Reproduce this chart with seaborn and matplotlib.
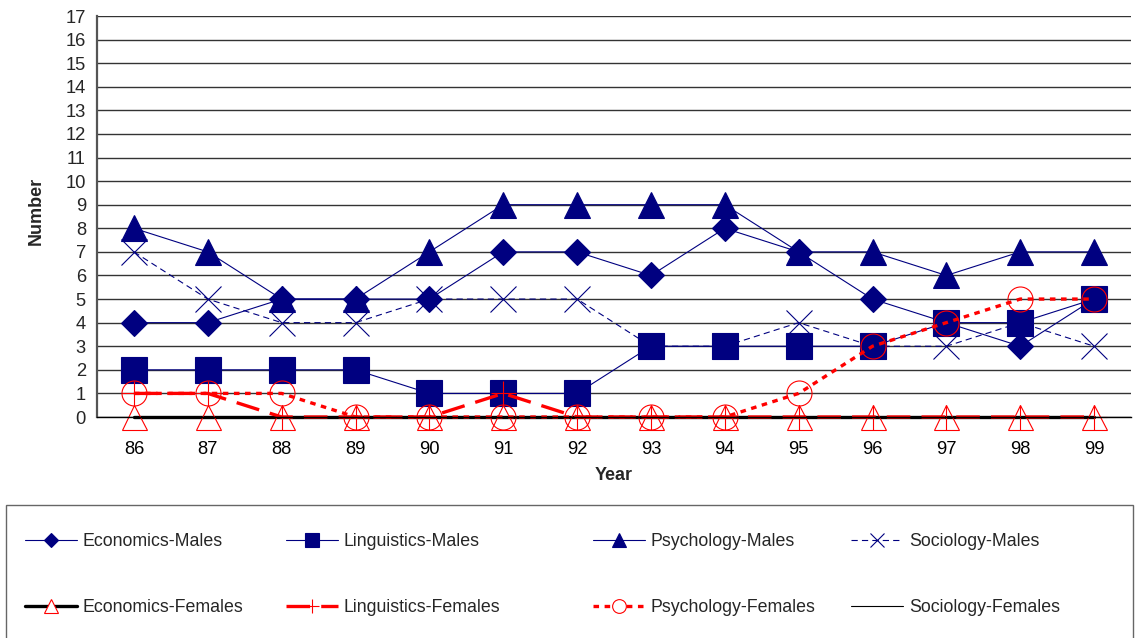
import matplotlib
matplotlib.use("Agg")
import matplotlib.pyplot as plt
import seaborn as sns
from matplotlib.patches import Rectangle
from matplotlib.lines import Line2D

# data
years = [86, 87, 88, 89, 90, 91, 92, 93, 94, 95, 96, 97, 98, 99]
economics_males = [4, 4, 5, 5, 5, 7, 7, 6, 8, 7, 5, 4, 3, 5]
linguistics_males = [2, 2, 2, 2, 1, 1, 1, 3, 3, 3, 3, 4, 4, 5]
psychology_males = [8, 7, 5, 5, 7, 9, 9, 9, 9, 7, 7, 6, 7, 7]
sociology_males = [7, 5, 4, 4, 5, 5, 5, 3, 3, 4, 3, 3, 4, 3]
economics_females = [0, 0, 0, 0, 0, 0, 0, 0, 0, 0, 0, 0, 0, 0]
linguistics_females = [1, 1, 0, 0, 0, 1, 0, 0, 0, 0, 0, 0, 0, 0]
psychology_females = [1, 1, 1, 0, 0, 0, 0, 0, 0, 1, 3, 4, 5, 5]
sociology_females = [0, 0, 0, 0, 0, 0, 0, 0, 0, 0, 0, 0, 0, 0]

NAVY = "#000080"
RED = "#FF0000"

series = [
    ("Economics-Males", economics_males,
     dict(color=NAVY, lw=0.8, marker="D", ms=13.5, mfc=NAVY, mec=NAVY, mew=0.8)),
    ("Linguistics-Males", linguistics_males,
     dict(color=NAVY, lw=0.8, marker="s", ms=19, mfc=NAVY, mec=NAVY, mew=0.8)),
    ("Psychology-Males", psychology_males,
     dict(color=NAVY, lw=0.8, marker="^", ms=19, mfc=NAVY, mec=NAVY, mew=0.8)),
    ("Sociology-Males", sociology_males,
     dict(color=NAVY, lw=0.8, linestyle=(0, (4.5, 3)), marker="x", ms=19, mec=NAVY, mew=0.8)),
    ("Economics-Females", economics_females,
     dict(color="black", lw=2.4, marker="^", ms=18, mfc="none", mec=RED, mew=0.8)),
    ("Linguistics-Females", linguistics_females,
     dict(color=RED, lw=2.4, linestyle=(0, (17, 8)), marker="+", ms=18, mec=RED, mew=0.8)),
    ("Psychology-Females", psychology_females,
     dict(color=RED, lw=2.4, linestyle=(0, (4, 4)), marker="o", ms=18, mfc="none", mec=RED, mew=0.8)),
    ("Sociology-Females", sociology_females,
     dict(color="black", lw=0.8)),
]

sns.set_theme(style="white")
plt.rcParams["font.family"] = ["Liberation Sans", "DejaVu Sans"]
plt.rcParams["lines.scale_dashes"] = False

W, H = 1135, 638
fig = plt.figure(figsize=(W / 100, H / 100), dpi=100)
ax = fig.add_axes([97 / W, 1 - 417 / H, (1131 - 97) / W, (417 - 16) / H])

for label, vals, kw in series:
    sns.lineplot(x=years, y=vals, ax=ax, label=label, clip_on=False, **kw)

ax.get_legend().remove()

ax.set_xlim(85.5, 99.5)
ax.set_ylim(0, 17)
ax.set_yticks(range(0, 18))
ax.set_xticks(years)
ax.set_xticks([y + 0.5 for y in [85] + years], minor=True)
ax.tick_params(axis="x", which="major", length=0, labelsize=13.2, pad=17, colors="black")
ax.tick_params(axis="x", which="minor", length=5, width=1, color="#555555", direction="out")
ax.tick_params(axis="y", which="major", length=5, width=1, color="#555555", direction="out",
               labelsize=13.2, pad=3)
ax.yaxis.grid(True, color="#333333", lw=1)
ax.set_axisbelow(True)
for s in ["top", "right"]:
    ax.spines[s].set_visible(False)
ax.spines["left"].set_color("#555555")
ax.spines["left"].set_linewidth(1.6)
ax.spines["bottom"].set_color("black")
ax.spines["bottom"].set_linewidth(1)
ax.set_xlabel("")
ax.set_ylabel("")

fig.text(614 / W, 1 - 476 / H, "Year", ha="center", va="center", fontsize=13, fontweight="bold")
fig.text(36 / W, 1 - 211 / H, "Number", ha="center", va="center", fontsize=13,
         fontweight="bold", rotation=90)

# legend handles: open markers get a white fill like the original
handles, labels = [], []
for label, vals, kw in series:
    hkw = dict(kw)
    if hkw.get("mfc") == "none":
        hkw["mfc"] = "white"
    handles.append(Line2D([], [], **hkw))
    labels.append(label)

col_x = [25, 286, 593, 851]
for i, x in enumerate(col_x):
    fig.legend([handles[i], handles[i + 4]], [labels[i], labels[i + 4]],
               loc="center left", bbox_to_anchor=(x / W, 1 - 574.5 / H),
               frameon=False, borderpad=0, borderaxespad=0, handlelength=2.9,
               handletextpad=0.35, labelspacing=2.75, fontsize=12.8, markerscale=0.55)

fig.add_artist(Rectangle((6 / W, -0.05), (1133 - 6) / W, (1 - 505 / H) + 0.05,
                         transform=fig.transFigure, fill=False, edgecolor="#666666", lw=1))

fig.savefig("out.png", dpi=100, facecolor="white")
